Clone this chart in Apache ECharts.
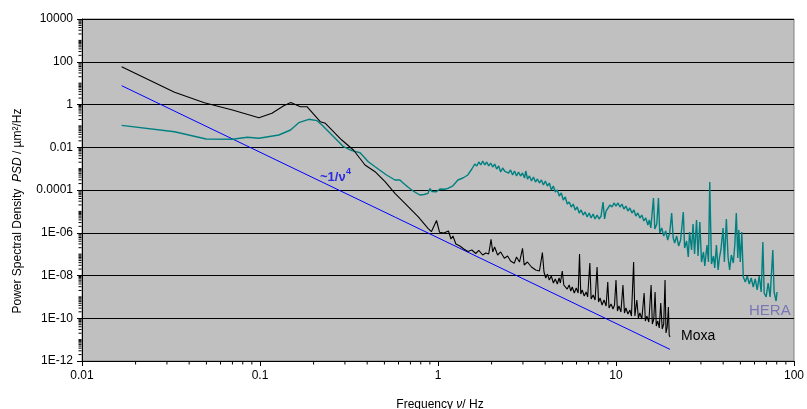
<!DOCTYPE html>
<html><head><meta charset="utf-8">
<script src="https://cdn.jsdelivr.net/npm/echarts@6/dist/echarts.min.js"></script>
<style>html,body{margin:0;padding:0;background:#fff}#c{width:807px;height:409px}</style>
</head><body><div id="c"></div><script>
const FONT = '"Liberation Sans", Arial, sans-serif';
const xTickLabels = ['0.01','0.1','1','10','100'];
const yTickLabels = ['1E-12','1E-10','1E-08','1E-06','0.0001','0.01','1','100','10000'];
const xMinorTicks = [0.02,0.03,0.04,0.05,0.06,0.07,0.08,0.09,0.2,0.3,0.4,0.5,0.6,0.7,0.8,0.9,2,3,4,5,6,7,8,9,20,30,40,50,60,70,80,90];

const fitFreq = [0.0167, 20.1];
const fitPsd  = [7.6, 3.5e-12];

const moxaFreq = [0.0167,0.0331,0.0487,0.07,0.0986,0.1167,0.136,0.149,0.1686,0.1836,0.218,0.233,0.288,0.335,0.389,0.443,0.504,0.573,0.652,0.773,0.879,0.918,0.981,1.021,1.08,1.145,1.183,1.213,1.26,1.327,1.397,1.471,1.549,1.63,1.694,1.783,1.854,1.927,1.986,2.03,2.08,2.163,2.249,2.36,2.46,2.558,2.68,2.762,2.87,2.985,3.05,3.18,3.35,3.54,3.715,3.86,3.94,
  4.03,4.12,4.22,4.33,4.45,4.56,4.68,4.79,4.87,4.99,5.09,5.21,5.32,5.46,5.57,5.68,5.83,5.98,6.13,6.24,6.34,6.46,6.63,6.8,6.93,7.13,7.25,7.44,7.63,7.83,7.98,8.14,8.35,8.57,8.8,8.99,9.14,9.38,9.62,9.81,10.0,10.19,10.39,10.66,10.94,11.16,11.37,11.67,11.97,12.21,12.56,12.77,13.1,13.36,13.62,13.97,14.39,14.62,14.9,15.29,15.75,16.0,16.31,16.58,16.84,17.17,17.5,17.84,18.19,18.54,18.86,19.1,19.4,19.7,19.9,20.1];
const moxaPsd = [58,3.72,1.2,0.55,0.241,0.387,0.88,1.24,0.79,0.79,0.157,0.132,0.0218,0.00743,0.00148,7.18e-4,2.44e-4,7.0e-5,2.39e-5,5.64e-6,1.61e-6,1.12e-6,3.74e-6,1.05e-6,9.7e-7,1.21e-6,5.1e-7,7.05e-7,2.98e-7,2.4e-7,1.74e-7,1.33e-7,1.56e-7,1.07e-7,1.48e-7,9.1e-8,1.13e-7,1.01e-7,4.93e-7,1.26e-7,2.15e-7,9.1e-8,1.26e-7,6.38e-8,8.17e-8,4.77e-8,3.72e-8,7.3e-8,4.27e-8,1.87e-7,3.1e-8,4.27e-8,2.5e-8,1.81e-8,1.62e-8,1.17e-7,1.46e-8,
  7.64e-9,1.17e-8,6.15e-9,9.5e-9,4.46e-9,6.86e-9,4.0e-9,7.64e-9,4.46e-9,1.62e-8,3.6e-9,4.46e-9,2.33e-9,3.6e-9,1.88e-9,2.9e-9,1.52e-9,2.6e-9,1.52e-9,1.01e-7,1.36e-9,2.1e-9,1.1e-9,1.69e-9,9.9e-10,3.85e-8,7.96e-10,1.22e-9,7.15e-10,2.5e-8,5.75e-10,8.85e-10,4.17e-10,7.15e-10,3.74e-10,4.97e-9,3.02e-10,4.65e-10,2.71e-10,4.17e-10,6.15e-9,2.18e-10,3.74e-10,1.96e-10,3.6e-9,1.76e-10,3.02e-10,1.58e-10,2.43e-10,1.27e-10,4.28e-8,1.27e-10,7.15e-10,1.03e-10,1.76e-10,9.2e-11,1.52e-9,7.43e-11,1.27e-10,6.68e-11,3.6e-9,5.38e-11,9.2e-11,1.69e-9,4.34e-11,7.43e-11,3.5e-11,5.17e-10,3.14e-11,5.38e-11,6.15e-9,2.04e-11,3.9e-11,3.36e-10,1.64e-11,1.33e-11];

const heraFreq = [0.0167,0.0331,0.0498,0.07,0.0849,0.0986,0.1276,0.1485,0.1651,0.188,0.209,0.223,0.2377,0.2535,0.2946,0.328,0.365,0.406,0.443,0.514,0.573,0.611,0.637,0.68,0.725,0.79,0.835,0.879,0.902,0.925,0.979,1.026,1.09,1.137,1.213,1.294,1.38,1.471,1.549,
  1.569,1.609,1.652,1.695,1.739,1.784,1.831,1.878,1.927,1.977,2.029,2.082,2.136,2.192,2.249,2.307,2.367,2.429,2.492,2.557,2.624,2.692,2.762,2.834,2.908,2.984,3.062,3.113,3.184,3.266,3.351,3.439,3.528,3.62,3.714,3.811,3.91,4.012,4.117,4.224,4.334,4.446,4.562,4.681,4.803,4.928,5.057,5.188,5.323,5.462,5.604,5.75,5.9,6.054,6.211,6.373,6.539,6.71,6.885,7.064,7.248,7.437,7.631,7.83,8.035,8.244,8.459,8.625,8.793,9.023,9.258,9.499,9.746,10.0,10.26,10.53,10.8,11.08,11.37,11.67,11.97,12.29,12.61,12.93,13.27,13.62,13.97,14.34,14.71,15.1,15.39,15.69,16.24,16.52,16.95,17.32,17.61,18.07,18.54,19.02,19.52,20.03,20.55,20.96,21.36,21.92,22.49,23.07,23.89,24.29,24.93,25.48,25.91,26.59,27.1,27.63,28.35,28.9,29.58,30.23,31.02,31.54,32.45,33.08,33.63,34.38,35.28,35.87,36.66,37.47,38.11,38.85,39.96,40.63,41.69,42.61,43.5,44.46,45.62,46.51,47.42,48.35,48.97,49.93,50.9,51.9,53.26,54.64,56.07,57.53,59.02,60.56,62.14,63.76,65.42,66.86,67.99,69.76,71.58,73.44,76.03,77.32,79.33,80.35];
const heraPsd = [0.106,0.0533,0.0243,0.0235,0.0292,0.0262,0.0374,0.0641,0.141,0.203,0.175,0.11,0.0641,0.0374,0.0106,0.0069,0.00556,0.00211,0.00123,5.04e-4,2.94e-4,2.94e-4,2.12e-4,1.34e-4,8.97e-5,5.83e-5,6.15e-5,7.0e-5,1.17e-4,8.5e-5,8.3e-5,1.11e-4,1.08e-4,1.2e-4,1.58e-4,2.94e-4,3.64e-4,5.04e-4,9.6e-4,
  1.19e-3,1.64e-3,1.33e-3,2.04e-3,1.48e-3,2.27e-3,1.48e-3,2.04e-3,1.33e-3,1.83e-3,1.19e-3,1.64e-3,9.6e-4,1.33e-3,6.95e-4,1.07e-3,7.74e-4,9.6e-4,6.24e-4,8.63e-4,5.04e-4,7.74e-4,4.52e-4,6.95e-4,4.52e-4,6.24e-4,3.64e-4,7.74e-4,3.27e-4,4.52e-4,2.64e-4,4.06e-4,2.37e-4,3.27e-4,2.12e-4,2.94e-4,1.71e-4,2.64e-4,1.54e-4,2.12e-4,1.0e-4,1.54e-4,8.05e-5,1.0e-4,5.24e-5,7.24e-5,3.4e-5,4.71e-5,2.21e-5,2.75e-5,1.6e-5,2.21e-5,1.16e-5,1.6e-5,8.4e-6,1.16e-5,6.76e-6,9.35e-6,5.46e-6,8.4e-6,4.9e-6,7.53e-6,4.4e-6,6.76e-6,4.4e-6,6.08e-6,2.75e-5,4.4e-6,1.04e-5,1.44e-5,1.99e-5,1.6e-5,2.47e-5,1.78e-5,2.47e-5,1.6e-5,2.21e-5,1.29e-5,1.78e-5,1.04e-5,1.44e-5,8.4e-6,1.16e-5,6.08e-6,8.4e-6,4.9e-6,6.76e-6,3.55e-6,4.9e-6,2.31e-6,3.95e-6,1.67e-6,4.23e-5,1.5e-6,2.57e-6,4.23e-5,9.73e-7,1.67e-6,7.05e-7,1.21e-6,4.58e-7,9.73e-7,8.4e-6,5.68e-7,3.31e-7,7.05e-7,2.4e-7,4.58e-7,9.35e-6,1.94e-7,4.11e-7,7.33e-8,1.08e-6,1.56e-7,2.57e-6,1.01e-7,3.95e-6,8.17e-8,3.18e-6,4.28e-8,1.26e-7,2.78e-8,2.67e-7,4.28e-8,2.37e-4,3.45e-8,8.17e-8,2.24e-8,2.67e-7,1.81e-8,6.59e-8,1.56e-7,1.67e-6,4.28e-8,4.4e-6,7.33e-8,1.81e-8,9.1e-8,3.85e-8,2.67e-7,8.4e-6,6.59e-8,1.35e-6,4.28e-8,1.08e-6,8.51e-9,4.97e-9,9.5e-9,4.0e-9,7.64e-9,2.9e-9,6.86e-9,2.1e-9,9.5e-9,1.69e-9,3.69e-7,1.52e-9,9.9e-10,4.46e-9,9.9e-10,1.56e-7,1.69e-9,6.41e-10,1.69e-9];

// y-axis minor tick positions (sub-decade marks of the log ruler)
const yMinorTicks = [];
for (let e = -12; e < 4; e++) {
  for (let m = 1; m <= 9; m++) {
    if (m === 1 && e % 2 === 0) continue;
    yMinorTicks.push(m * Math.pow(10, e));
  }
}

const zip = (a, b) => a.map((v, i) => [v, b[i]]);
const chart = echarts.init(document.getElementById('c'), null, {renderer: 'canvas'});

chart.setOption({
  animation: false,
  backgroundColor: '#ffffff',
  textStyle: {fontFamily: FONT},
  grid: {left: 82, right: 9, top: 19, bottom: 48, show: true, backgroundColor: '#c0c0c0', borderColor: '#808080', borderWidth: 1},
  xAxis: {
    type: 'log', logBase: 10, min: 0.01, max: 100,
    axisLine: {show: true, lineStyle: {color: '#000', width: 1}},
    axisTick: {show: true, inside: false, length: 5, lineStyle: {color: '#000'}},
    axisLabel: {show: true, margin: 9, fontSize: 12, color: '#000', fontFamily: FONT,
      formatter: v => xTickLabels[Math.round(Math.log10(v) + 2)]},
    splitLine: {show: false}
  },
  yAxis: {
    type: 'log', logBase: 10, min: 1e-12, max: 1e4, interval: 2,
    axisLine: {show: true, lineStyle: {color: '#000', width: 1}},
    axisTick: {show: true, inside: false, length: 5, lineStyle: {color: '#000'}},
    axisLabel: {show: true, margin: 9, fontSize: 12, color: '#000', fontFamily: FONT,
      formatter: v => yTickLabels[Math.round((Math.log10(v) + 12) / 2)]},
    splitLine: {show: true, lineStyle: {color: '#000', width: 1}}
  },
  series: [
    {
      type: 'scatter', silent: true, z: 6, clip: false,
      data: xMinorTicks.map(f => [f, 1e-12]),
      symbol: 'rect', symbolSize: [1, 3], symbolOffset: [0, 2],
      itemStyle: {color: '#000', opacity: 1}
    },
    {
      type: 'scatter', silent: true, z: 6, clip: false,
      data: yMinorTicks.map(v => [0.01, v]),
      symbol: 'rect', symbolSize: [3, 1], symbolOffset: [-2, 0],
      itemStyle: {color: '#000', opacity: 1}
    },
    {
      name: '~1/ν⁴', type: 'line', data: zip(fitFreq, fitPsd), showSymbol: false, symbol: 'none',
      lineStyle: {color: '#0000ff', width: 1}, z: 2
    },
    {
      name: 'HERA', type: 'line', data: zip(heraFreq, heraPsd), showSymbol: false, symbol: 'none',
      lineStyle: {color: '#008080', width: 1.4}, z: 3
    },
    {
      name: 'Moxa', type: 'line', data: zip(moxaFreq, moxaPsd), showSymbol: false, symbol: 'none',
      lineStyle: {color: '#000000', width: 1.1}, z: 4
    }
  ],
  graphic: [
    {type: 'text', x: 18, y: 211, rotation: Math.PI / 2,
      style: {text: '{a|Power Spectral Density  }{i|PSD}{a| / µm²/Hz}', align: 'center', verticalAlign: 'middle',
        rich: {a: {fontSize: 12, fontFamily: FONT, fill: '#000'}, i: {fontSize: 12, fontFamily: FONT, fontStyle: 'italic', fill: '#000'}}}},
    {type: 'text', x: 440, y: 405,
      style: {text: '{a|Frequency }{i|ν}{a|/ Hz}', align: 'center', verticalAlign: 'middle',
        rich: {a: {fontSize: 12, fontFamily: FONT, fill: '#000'}, i: {fontSize: 12, fontFamily: FONT, fontStyle: 'italic', fill: '#000'}}}},
    {type: 'text', x: 681, y: 336, z: 10,
      style: {text: 'Moxa', fontSize: 14, fontFamily: FONT, fill: '#000', align: 'left', verticalAlign: 'middle'}},
    {type: 'text', x: 749, y: 311, z: 10,
      style: {text: 'HERA', fontSize: 15, fontFamily: FONT, fill: '#7878b4', align: 'left', verticalAlign: 'middle'}},
    {type: 'text', x: 320, y: 177, z: 10,
      style: {text: '~1/ν', fontSize: 13, fontWeight: 'bold', fontFamily: FONT, fill: '#2b2be0', align: 'left', verticalAlign: 'middle'}},
    {type: 'text', x: 346, y: 172, z: 10,
      style: {text: '4', fontSize: 9, fontWeight: 'bold', fontFamily: FONT, fill: '#2b2be0', align: 'left', verticalAlign: 'middle'}}
  ]
});
</script></body></html>
